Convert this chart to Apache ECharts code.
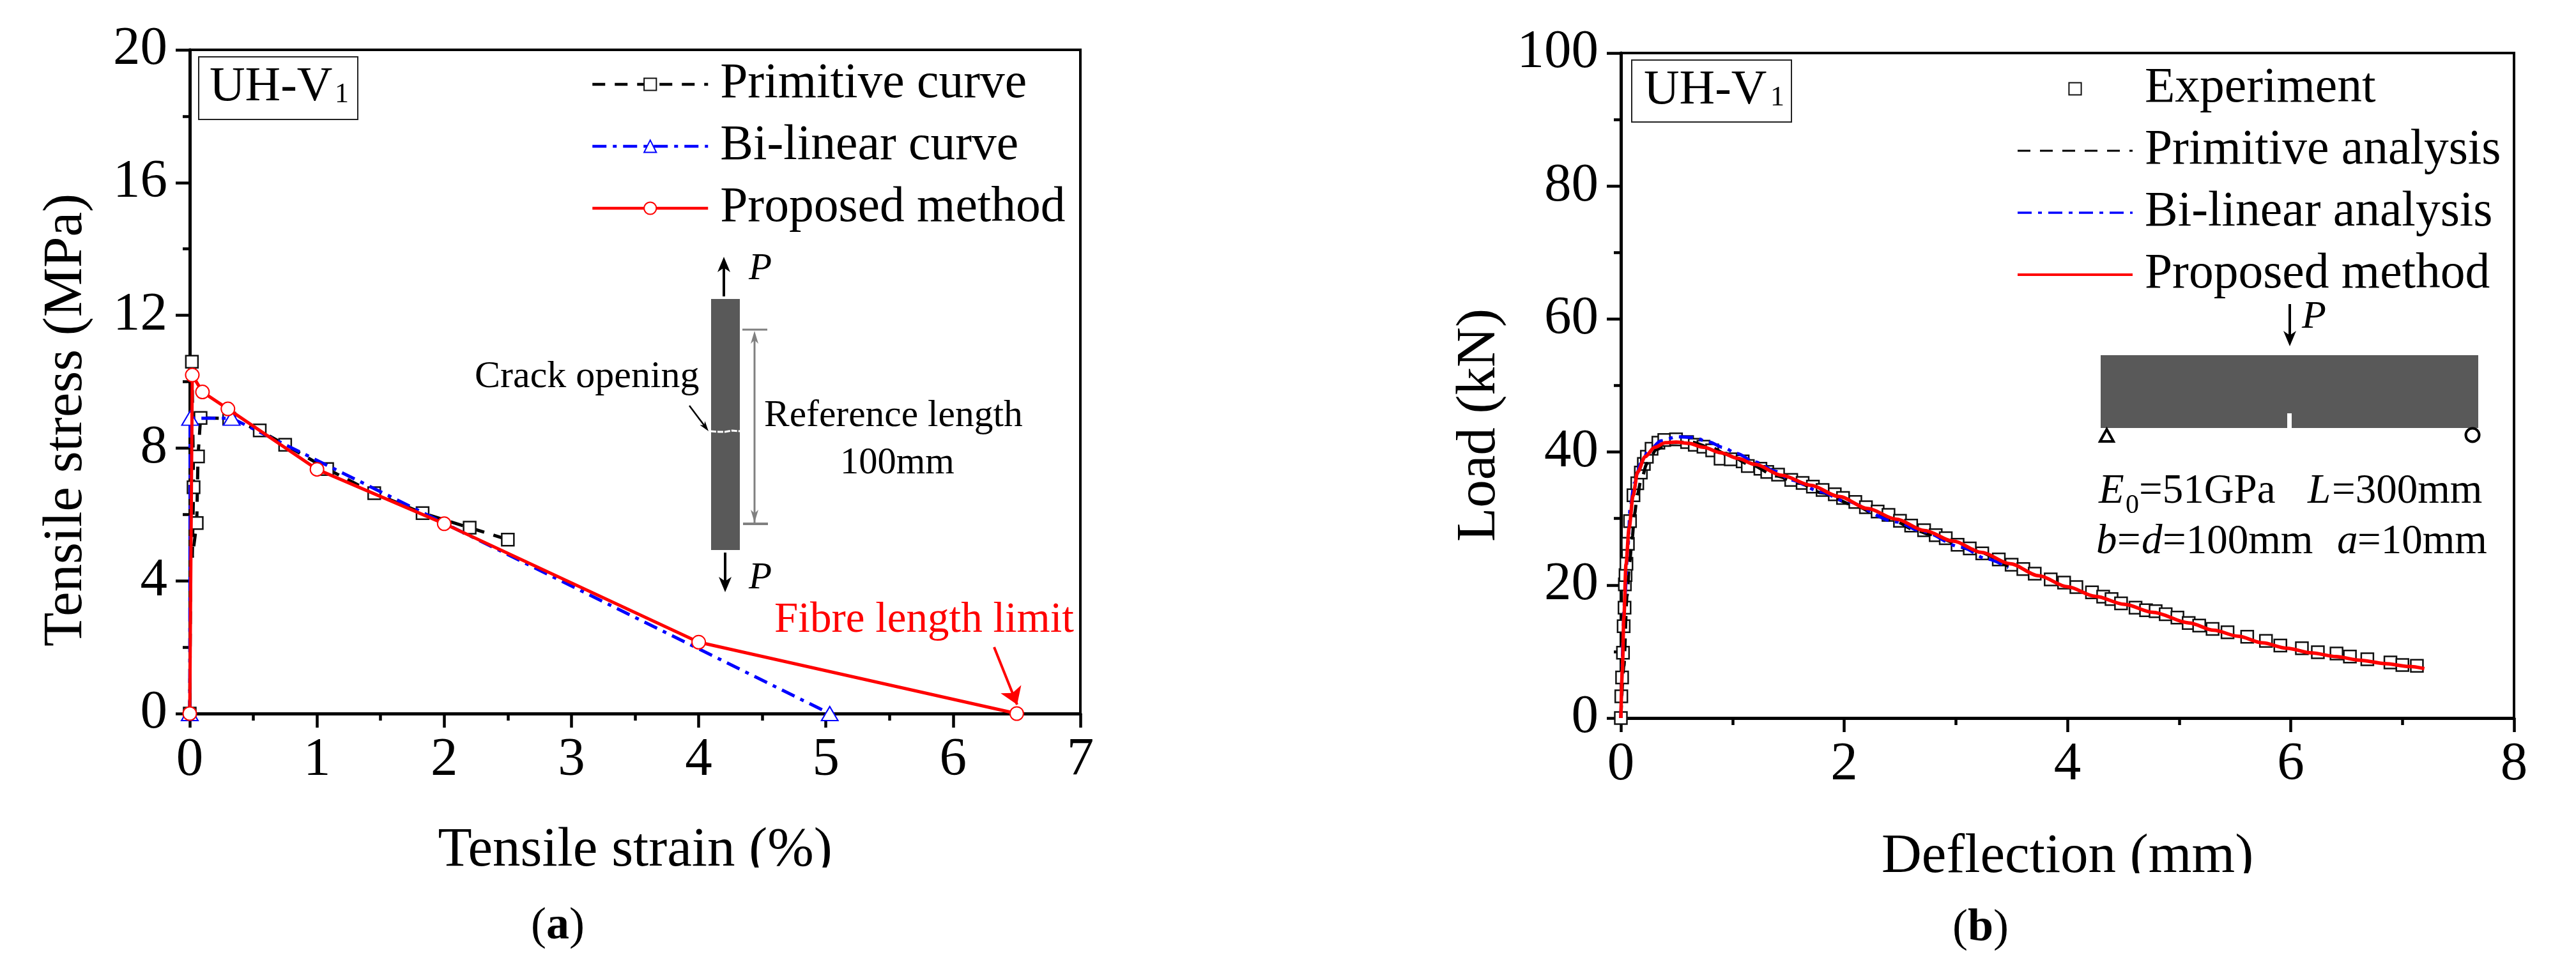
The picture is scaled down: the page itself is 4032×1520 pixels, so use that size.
<!DOCTYPE html>
<html><head><meta charset="utf-8">
<style>html,body{margin:0;padding:0;background:#fff}#a,#b{position:absolute;left:0;top:0;width:4032px;height:1520px}</style>
<script src="https://cdn.jsdelivr.net/npm/echarts@6/dist/echarts.min.js"></script>
</head><body><div id="a"></div><div id="b"></div>
<script>
// ---------- Panel (a) data: tensile strain (%), tensile stress (MPa)
const primitiveCurve = [[0,0],[0.017,10.6],[0.03,6.82],[0.02,4.7],[0.055,5.74],[0.065,7.75],[0.085,8.91],[0.31,8.89],[0.55,8.53],[0.75,8.1],[1.08,7.37],[1.45,6.64],[1.83,6.04],[2.2,5.6],[2.5,5.24]];
const primitiveHiddenMarks = [3];
const bilinearCurve = [[0,0],[0.003,8.9],[0.33,8.9],[5.03,0]];
const proposedCurve = [[0,0],[0.02,10.2],[0.1,9.69],[0.3,9.18],[1,7.36],[2,5.72],[4,2.15],[6.5,0]];
const fibreArrow = [[6.322,2.0],[6.503,0.27]];
// ---------- Panel (b) data: deflection (mm), load (kN)
const experiment = [[0,0],[0.004,3.27],[0.011,6.1],[0.019,9.83],[0.025,13.8],[0.033,16.6],[0.036,20.1],[0.042,21.5],[0.05,23.2],[0.063,26.2],[0.082,29.6],[0.113,33.5],[0.147,35.3],[0.179,36.9],[0.206,38.2],[0.233,39.3],[0.275,40.5],[0.336,41.4],[0.389,41.8],[0.494,41.9],[0.593,41.5],[0.662,41.1],[0.74,40.8],[0.818,40.25],[0.893,39],[0.984,38.9],[1.091,38.6],[1.137,37.9],[1.25,37.5],[1.311,37],[1.408,36.6],[1.526,35.8],[1.628,35.35],[1.72,34.8],[1.807,34.3],[1.916,33.65],[1.99,33.1],[2.1,32.5],[2.195,31.7],[2.3,31.05],[2.397,30.55],[2.5,29.65],[2.6,28.95],[2.716,28.25],[2.82,27.5],[2.91,27.05],[3.016,26.05],[3.125,25.5],[3.237,24.75],[3.385,23.85],[3.5,23.05],[3.605,22.4],[3.707,21.7],[3.85,20.85],[3.97,20.36],[4.08,19.7],[4.22,18.9],[4.32,18.25],[4.395,17.9],[4.48,17.25],[4.61,16.6],[4.704,16.2],[4.79,16.07],[4.88,15.6],[4.985,15.1],[5.086,14.3],[5.18,13.9],[5.3,13.4],[5.434,12.9],[5.61,12.23],[5.778,11.6],[5.907,10.9],[6.1,10.5],[6.243,9.9],[6.41,9.7],[6.53,9.25],[6.686,8.84],[6.893,8.36],[7,7.97],[7.13,7.85]];
const primitiveAnalysis = [[0,0],[0.027,7.8],[0.055,18.3],[0.078,23.4],[0.103,27.3],[0.12,30.5],[0.15,33.7],[0.178,35.6],[0.235,38.3],[0.32,40.4],[0.435,41.4],[0.628,41.5],[0.8,40.7],[0.97,39.5],[1.16,38.1],[1.39,36.4],[1.6,35.3],[1.8,33.85],[2.08,32.1],[2.287,30.65],[2.466,29.5],[2.63,28.3],[2.77,27.6],[3.13,25.4],[3.47,22.8]];
const bilinearAnalysis = [[0,0],[0.036,18.3],[0.063,25.7],[0.084,31.8],[0.12,35.3],[0.179,38.3],[0.246,40.1],[0.36,41.7],[0.504,42.3],[0.647,42.2],[0.79,41.5],[0.914,40.7],[1.036,39.8],[1.2,38.5],[1.39,37.07],[1.52,35.8],[1.8,34],[1.99,32.7],[2.466,29.5],[2.695,28.1],[3.05,25.7],[3.283,23.9],[3.47,22.6]];
const proposedAnalysis = [[0,0],[0.013,7.1],[0.027,15.1],[0.046,23.1],[0.074,28.6],[0.109,33.4],[0.15,37],[0.217,39.3],[0.303,40.7],[0.399,41.4],[0.494,41.5],[0.608,41.3],[0.742,40.7],[0.895,39.9],[1.047,39.05],[1.2,38.15],[1.44,36.5],[1.7,35],[1.955,33.3],[2.21,31.5],[2.466,29.9],[2.72,28.2],[2.976,26.6],[3.23,24.9],[3.487,23.2],[3.742,21.4],[4,19.75],[4.25,18.3],[4.51,17.1],[4.765,15.9],[5.09,14.3],[5.31,13.2],[5.53,12.3],[5.746,11.3],[5.966,10.5],[6.186,9.8],[6.405,9.25],[6.62,8.7],[6.84,8.2],[7.06,7.75],[7.197,7.43]];
// ---------- Tick settings
const strainTicks = {min:0,max:7,interval:1};
const stressTicks = {min:0,max:20,interval:4};
const deflectionTicks = {min:0,max:8,interval:2};
const loadTicks = {min:0,max:100,interval:20};

const FONT = 'Liberation Serif';
const BLACK = '#000';
const DASH = [20,15];
const DASHDOT = [22,10,6,10];

function axis(ticks, name, isX, gap, pad){
  return Object.assign({}, ticks, {
    type:'value', name, nameLocation:'middle', nameGap:gap,
    nameTextStyle:{fontFamily:FONT,fontSize:87,color:BLACK,padding:pad||0},
    axisLine:{show:true,onZero:false,lineStyle:{color:BLACK,width:5}},
    axisTick:{show:true,length:22,lineStyle:{color:BLACK,width:4.5}},
    minorTick:{show:true,splitNumber:2,length:11,lineStyle:{color:BLACK,width:4.5}},
    axisLabel:{fontFamily:FONT,fontSize:85,color:BLACK,margin:isX?31:35,hideOverlap:false},
    splitLine:{show:false},minorSplitLine:{show:false}
  });
}
function gridOf(l,r,t,b){return {left:l,right:r,top:t,bottom:b,show:true,borderColor:BLACK,borderWidth:4,backgroundColor:'transparent',containLabel:false,outerBoundsMode:'none'};}

// ---------- Drawing helpers for the inset schematics and labels (y is the text baseline)
const Z=100;
function txt(x,y,s,size,o){o=o||{};return {type:'text',z:Z,x,y:y-0.3375*size,style:{text:s,fontFamily:FONT,fontSize:size,fill:o.fill||BLACK,fontStyle:o.italic?'italic':'normal',fontWeight:o.bold?'bold':'normal',align:o.align||'left',verticalAlign:'middle'}};}
function rect(x,y,w,h,fill,stroke,lw){return {type:'rect',z:Z,shape:{x,y,width:w,height:h},style:{fill:fill,stroke:stroke||null,lineWidth:lw||0}};}
function line(x1,y1,x2,y2,c,w,dash){return {type:'line',z:Z,shape:{x1,y1,x2,y2},style:{stroke:c,lineWidth:w,lineDash:dash||null}};}
function head(x,y,dx,dy,len,wid,c){ // tip at x,y pointing along dx,dy
  const bx=x-dx*len,by=y-dy*len,nx=x-dx*len*0.72,ny=y-dy*len*0.72,px=-dy*wid/2,py=dx*wid/2;
  return {type:'polygon',z:Z,shape:{points:[[x,y],[bx+px,by+py],[nx,ny],[bx-px,by-py]]},style:{fill:c}};
}
function arrow(x1,y1,x2,y2,c,w,len,wid){const L=Math.hypot(x2-x1,y2-y1),dx=(x2-x1)/L,dy=(y2-y1)/L;return [line(x1,y1,x2-dx*len*0.6,y2-dy*len*0.6,c,w),head(x2,y2,dx,dy,len,wid,c)];}

const gfxA=[
  rect(650,1358,690,50,'#fff'),
  rect(311,89,249,98,'#fff','#222',2),
  txt(328,163,'UH-V',77), txt(524,163,'1',44),
  txt(1212,994,'Fibre length limit',67,{fill:'#f00'}),
  rect(1113,468,45,393,'#595959'),
  {type:'polyline',z:Z,shape:{points:[[1112,675],[1125,676],[1135,676],[1146,674],[1158,675]]},style:{stroke:'#fff',lineWidth:3,lineDash:[9,2],fill:null}},
  ...arrow(1133,464,1133,402,BLACK,4,24,20),
  ...arrow(1135,865,1135,927,BLACK,4,24,20),
  txt(1172,441,'P',59,{italic:true}), txt(1172,925,'P',59,{italic:true}),
  line(1162,516,1201,516,'#808080',3), line(1163,820,1202,820,'#808080',4),
  ...arrow(1181,819,1181,518,'#808080',3,20,12),
  head(1181,818,0,1,20,12,'#808080'),
  txt(743,610,'Crack opening',60),
  ...arrow(1079,635,1109,675,BLACK,2.5,16,10),
  txt(1196,671,'Reference length',59.5), txt(1315,745,'100mm',58.5),
  txt(831,1475,'(',72), txt(855,1475,'a',72,{bold:true}), txt(891,1475,')',72)
];
const gfxB=[
  rect(2900,1367,680,50,'#fff'),
  rect(2554,94,250,97,'#fff','#222',2),
  txt(2573,168,'UH-V',77), txt(2771,168,'1',44),
  rect(3288,556,591,114,'#595959'),
  rect(3580,647,7,23,'#fff'),
  ...arrow(3584,476,3584,542,BLACK,4,24,20),
  txt(3603,518,'P',62,{italic:true}),
  {type:'polygon',z:Z,shape:{points:[[3297.5,672],[3287,691],[3308,691]]},style:{fill:'#fff',stroke:BLACK,lineWidth:4}},
  {type:'circle',z:Z,shape:{cx:3870,cy:681,r:10.5},style:{fill:'#fff',stroke:BLACK,lineWidth:4}},
  txt(3285,792,'E',65,{italic:true}), txt(3327,806,'0',42), txt(3348,792,'=51GPa',65),
  txt(3612,792,'L',65,{italic:true}), txt(3650,792,'=300mm',65),
  txt(3281,871,'b',65,{italic:true}), txt(3314,871,'=',65), txt(3352,871,'d',65,{italic:true}), txt(3385,871,'=100mm',65),
  txt(3658,871,'a',65,{italic:true}), txt(3690,871,'=10mm',65),
  txt(3056,1478,'(',72), txt(3080,1478,'b',72,{bold:true}), txt(3120,1478,')',72)
];

const legendText={fontFamily:FONT,fontSize:77.5,lineHeight:72,color:BLACK,padding:[0,0,0,14]};

const chartA=echarts.init(document.getElementById('a'),null,{renderer:'canvas'});
chartA.setOption({
  animation:false, backgroundColor:'#fff',
  grid:gridOf(297,2341,78,403),
  xAxis:axis(strainTicks,'Tensile strain (%)',true,172),
  yAxis:axis(stressTicks,'Tensile stress (MPa)',false,149,[0,120,0,0]),
  legend:{orient:'vertical',left:925,top:93,itemWidth:181,itemHeight:24,itemGap:19,align:'left',selectedMode:false,textStyle:legendText,padding:0,
    data:[{name:'Primitive curve',lineStyle:{width:4.5}},{name:'Bi-linear curve',lineStyle:{width:4.5}},{name:'Proposed method',lineStyle:{width:4.5}}]},
  series:[
    {name:'Primitive curve',type:'line',showAllSymbol:true,z:3,
      data:primitiveCurve.map((p,i)=>primitiveHiddenMarks.includes(i)?{value:p,symbol:'none'}:{value:p}),
      symbol:'rect',symbolSize:19,lineStyle:{color:BLACK,width:5,type:DASH},itemStyle:{color:'#fff',borderColor:'#111',borderWidth:2.5}},
    {name:'Bi-linear curve',type:'line',showAllSymbol:true,z:4,data:bilinearCurve,
      symbol:'triangle',symbolSize:[26,22],lineStyle:{color:'#00f',width:5,type:DASHDOT},itemStyle:{color:'#fff',borderColor:'#00f',borderWidth:2}},
    {name:'Proposed method',type:'line',showAllSymbol:true,z:5,data:proposedCurve,
      symbol:'circle',symbolSize:21,lineStyle:{color:'#f00',width:5},itemStyle:{color:'#fff',borderColor:'#f00',borderWidth:2},
      markLine:{silent:true,animation:false,symbol:['none','arrow'],symbolSize:26,label:{show:false},lineStyle:{color:'#f00',width:4,type:'solid'},
        data:[[{coord:fibreArrow[0]},{coord:fibreArrow[1]}]]}}
  ],
  graphic:gfxA
});

const chartB=echarts.init(document.getElementById('b'),null,{renderer:'canvas'});
const noMark={opacity:0};
chartB.setOption({
  animation:false,
  grid:gridOf(2537,97,83,396),
  xAxis:axis(deflectionTicks,'Deflection (mm)',true,175),
  yAxis:axis(loadTicks,'Load (kN)',false,177,[0,124,0,0]),
  legend:{orient:'vertical',left:3156,top:100,itemWidth:180,itemHeight:24,itemGap:19,align:'left',selectedMode:false,textStyle:legendText,padding:0,
    data:[{name:'Experiment'},
      {name:'Primitive analysis',itemStyle:noMark,lineStyle:{width:3}},
      {name:'Bi-linear analysis',itemStyle:noMark,lineStyle:{width:3.5}},
      {name:'Proposed method',itemStyle:noMark,lineStyle:{width:4}}]},
  series:[
    {name:'Experiment',type:'line',z:2,data:experiment,showAllSymbol:true,symbol:'rect',symbolSize:19,lineStyle:{opacity:0,width:0},itemStyle:{color:'#fff',borderColor:'#111',borderWidth:2.5}},
    {name:'Primitive analysis',type:'line',z:3,data:primitiveAnalysis,symbol:'none',smooth:0.3,smoothMonotone:'x',lineStyle:{color:BLACK,width:5,type:DASH},itemStyle:{color:BLACK}},
    {name:'Bi-linear analysis',type:'line',z:4,data:bilinearAnalysis,symbol:'none',smooth:0.3,smoothMonotone:'x',lineStyle:{color:'#00f',width:5,type:DASHDOT},itemStyle:{color:'#00f'}},
    {name:'Proposed method',type:'line',z:5,data:proposedAnalysis,symbol:'none',smooth:0.3,smoothMonotone:'x',lineStyle:{color:'#f00',width:5.5},itemStyle:{color:'#f00'}}
  ],
  graphic:gfxB
});
</script></body></html>
